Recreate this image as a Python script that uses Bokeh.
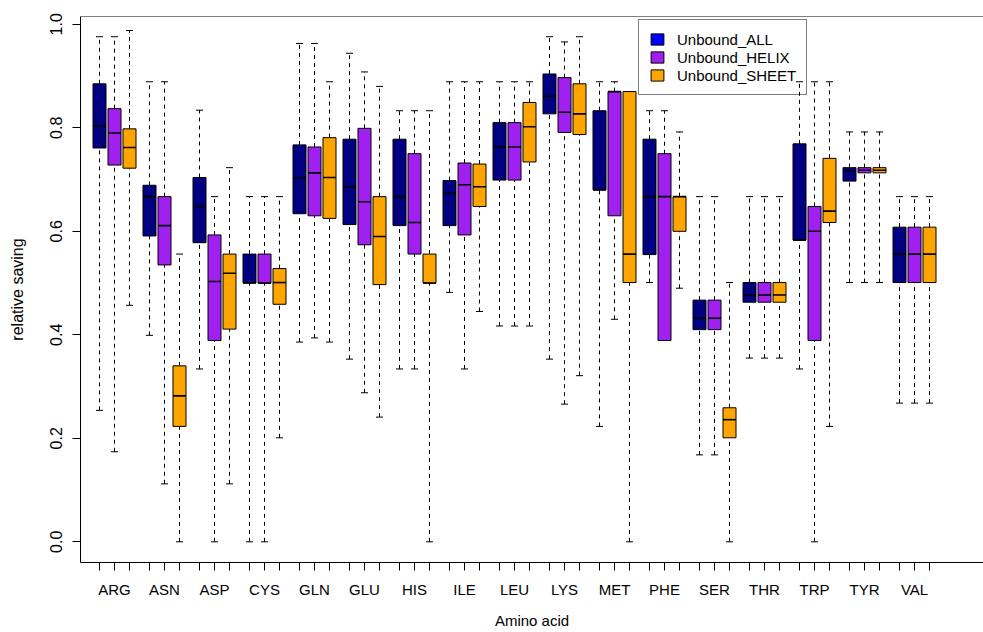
from bokeh.plotting import figure
from bokeh.models import ColumnDataSource, FixedTicker, Span, Legend, LegendItem, PrintfTickFormatter
from bokeh.embed import file_html
from bokeh.resources import INLINE

names = ["ARG", "ASN", "ASP", "CYS", "GLN", "GLU", "HIS", "ILE", "LEU",
         "LYS", "MET", "PHE", "SER", "THR", "TRP", "TYR", "VAL"]

# Unbound_ALL
all_lo  = [0.254, 0.399, 0.334, 0.000, 0.386, 0.353, 0.334, 0.482, 0.417, 0.353, 0.223, 0.501, 0.168, 0.355, 0.334, 0.501, 0.268]
all_q1  = [0.761, 0.591, 0.578, 0.500, 0.634, 0.613, 0.611, 0.611, 0.699, 0.827, 0.680, 0.555, 0.410, 0.463, 0.583, 0.697, 0.501]
all_med = [0.803, 0.667, 0.648, 0.500, 0.703, 0.686, 0.667, 0.674, 0.763, 0.861, 0.680, 0.667, 0.432, 0.477, 0.583, 0.717, 0.556]
all_q3  = [0.885, 0.689, 0.704, 0.556, 0.767, 0.778, 0.778, 0.698, 0.810, 0.904, 0.833, 0.778, 0.467, 0.501, 0.769, 0.723, 0.608]
all_hi  = [0.976, 0.889, 0.834, 0.667, 0.963, 0.944, 0.833, 0.889, 0.889, 0.976, 0.889, 0.833, 0.667, 0.667, 0.889, 0.792, 0.667]

# Unbound_HELIX
hel_lo  = [0.174, 0.112, 0.000, 0.000, 0.394, 0.288, 0.334, 0.334, 0.417, 0.266, 0.430, 0.389, 0.168, 0.355, 0.000, 0.501, 0.268]
hel_q1  = [0.728, 0.535, 0.389, 0.500, 0.630, 0.574, 0.556, 0.593, 0.699, 0.791, 0.630, 0.389, 0.410, 0.463, 0.389, 0.713, 0.501]
hel_med = [0.790, 0.611, 0.503, 0.500, 0.713, 0.657, 0.617, 0.690, 0.763, 0.830, 0.870, 0.667, 0.432, 0.477, 0.600, 0.718, 0.556]
hel_q3  = [0.837, 0.667, 0.593, 0.556, 0.763, 0.799, 0.750, 0.732, 0.810, 0.897, 0.870, 0.750, 0.467, 0.501, 0.648, 0.723, 0.608]
hel_hi  = [0.976, 0.889, 0.667, 0.667, 0.963, 0.908, 0.833, 0.889, 0.889, 0.966, 0.889, 0.833, 0.667, 0.667, 0.889, 0.792, 0.667]

# Unbound_SHEET
sh_lo  = [0.457, 0.000, 0.112, 0.201, 0.386, 0.241, 0.000, 0.445, 0.417, 0.321, 0.000, 0.490, 0.000, 0.355, 0.223, 0.501, 0.268]
sh_q1  = [0.722, 0.223, 0.411, 0.459, 0.625, 0.497, 0.500, 0.648, 0.734, 0.787, 0.501, 0.600, 0.201, 0.463, 0.617, 0.713, 0.501]
sh_med = [0.762, 0.282, 0.519, 0.501, 0.704, 0.590, 0.500, 0.686, 0.802, 0.827, 0.556, 0.667, 0.236, 0.477, 0.639, 0.718, 0.556]
sh_q3  = [0.798, 0.340, 0.556, 0.528, 0.781, 0.667, 0.556, 0.730, 0.849, 0.885, 0.870, 0.667, 0.259, 0.501, 0.741, 0.723, 0.608]
sh_hi  = [0.988, 0.556, 0.723, 0.667, 0.889, 0.880, 0.833, 0.889, 0.889, 0.976, 0.870, 0.792, 0.501, 0.667, 0.889, 0.792, 0.667]

series_labels = ["Unbound_ALL", "Unbound_HELIX", "Unbound_SHEET"]
box_colors = ["#000080", "#A020F0", "#FFA500"]
legend_colors = ["#0000FF", "#A020F0", "#FFA500"]
y_ticks = [0.0, 0.2, 0.4, 0.6, 0.8, 1.0]

FONT = "Liberation Sans"
OFFS = [-0.3, 0.0, 0.3]
BOX_W = 0.26
CAP_HALF = 0.07
NAN = float("nan")

p = figure(width=983, height=632, x_range=(0.32, 18.38), y_range=(-0.040, 1.0151),
           output_backend="svg", toolbar_location=None,
           min_border_left=80, min_border_right=0, min_border_top=16, min_border_bottom=70)
p.grid.visible = False
p.outline_line_color = None
p.background_fill_color = "white"
p.border_fill_color = "white"

data = [(all_lo, all_q1, all_med, all_q3, all_hi),
        (hel_lo, hel_q1, hel_med, hel_q3, hel_hi),
        (sh_lo, sh_q1, sh_med, sh_q3, sh_hi)]

legend_items = []
for k, (lo, q1, med, q3, hi) in enumerate(data):
    xs = [i + 1 + OFFS[k] for i in range(len(names))]
    src = ColumnDataSource(dict(
        x=xs, lo=lo, q1=q1, med=med, q3=q3, hi=hi,
        cl=[x - CAP_HALF for x in xs], cr=[x + CAP_HALF for x in xs],
        bl=[x - BOX_W / 2 for x in xs], br=[x + BOX_W / 2 for x in xs]))
    p.segment(x0="x", y0="q3", x1="x", y1="hi", source=src, line_color="black",
              line_width=1, line_dash="4 4")
    p.segment(x0="x", y0="lo", x1="x", y1="q1", source=src, line_color="black",
              line_width=1, line_dash="4 4")
    p.segment(x0="cl", y0="hi", x1="cr", y1="hi", source=src, line_color="black", line_width=1)
    p.segment(x0="cl", y0="lo", x1="cr", y1="lo", source=src, line_color="black", line_width=1)
    p.vbar(x="x", width=BOX_W, bottom="q1", top="q3", source=src,
           fill_color=box_colors[k], line_color="black", line_width=1)
    p.segment(x0="bl", y0="med", x1="br", y1="med", source=src, line_color="black", line_width=1.6)
    dummy = p.vbar(x=[NAN], top=[NAN], bottom=[NAN], width=0.1, fill_color=legend_colors[k],
                   line_color="black", line_width=1)
    legend_items.append(LegendItem(label=series_labels[k], renderers=[dummy], index=0))

# top frame line
p.add_layout(Span(location=1.0151, dimension="width", line_color="black", line_width=1))

# x axis
xa = p.xaxis[0]
xa.ticker = FixedTicker(ticks=[i + 1 for i in range(len(names))],
                        minor_ticks=[i + 1 + o for i in range(len(names)) for o in (-0.3, 0.3)])
xa.major_label_overrides = {i + 1: n for i, n in enumerate(names)}
xa.axis_line_color = "black"
xa.major_tick_in = 0
xa.major_tick_out = 8
xa.minor_tick_in = 0
xa.minor_tick_out = 8
xa.minor_tick_line_color = "black"
xa.major_tick_line_color = "black"
xa.major_label_standoff = 10
xa.major_label_text_font = FONT
xa.major_label_text_font_size = "15px"
xa.major_label_text_color = "black"
xa.axis_label = "Amino acid"
xa.axis_label_text_font = FONT
xa.axis_label_text_font_size = "15px"
xa.axis_label_text_font_style = "normal"
xa.axis_label_text_color = "black"
xa.axis_label_standoff = 11

# y axis
ya = p.yaxis[0]
ya.ticker = FixedTicker(ticks=y_ticks, minor_ticks=[])
ya.formatter = PrintfTickFormatter(format="%.1f")
ya.major_label_orientation = "vertical"
ya.axis_line_color = "black"
ya.major_tick_in = 0
ya.major_tick_out = 8
ya.minor_tick_line_color = None
ya.major_tick_line_color = "black"
ya.major_label_standoff = 10
ya.major_label_text_font = FONT
ya.major_label_text_font_size = "16px"
ya.major_label_text_color = "black"
ya.axis_label = "relative saving"
ya.axis_label_text_font = FONT
ya.axis_label_text_font_size = "16px"
ya.axis_label_text_font_style = "normal"
ya.axis_label_text_color = "black"
ya.axis_label_standoff = 22

legend = Legend(items=legend_items, location=(558, 467), orientation="vertical",
                padding=10, spacing=0, margin=0,
                glyph_width=16, glyph_height=14, label_height=18, label_standoff=12,
                label_text_font=FONT, label_text_font_size="15px", label_text_color="black",
                border_line_color="black", border_line_width=1,
                background_fill_alpha=0.0)
p.add_layout(legend)

html = file_html(p, INLINE)
open("out.html", "w").write(html)
